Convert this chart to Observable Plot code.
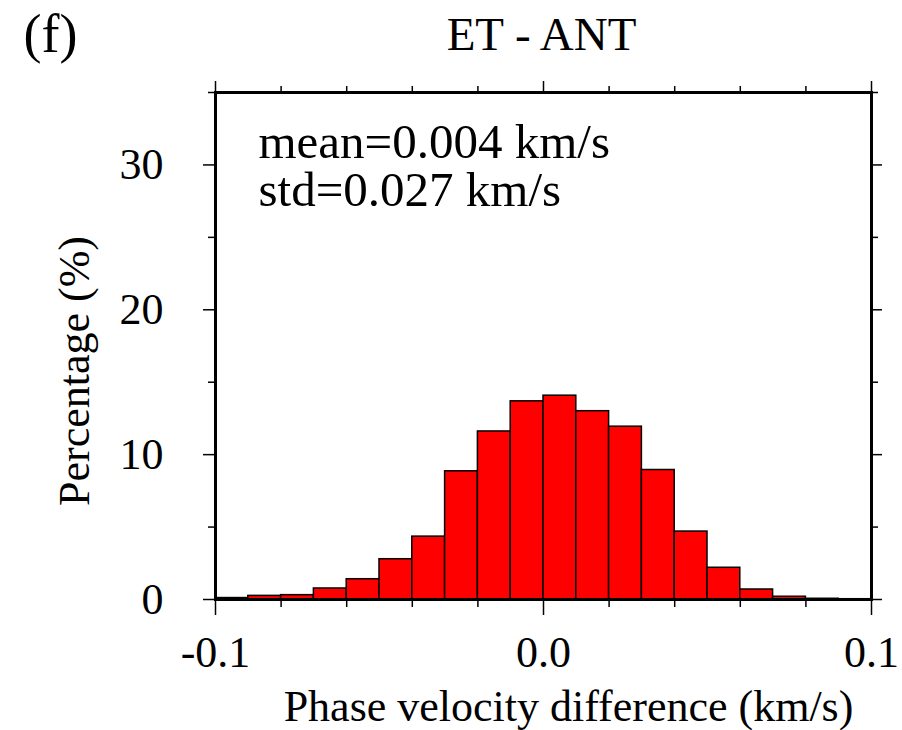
<!DOCTYPE html>
<html>
<head>
<meta charset="utf-8">
<script src="https://cdn.jsdelivr.net/npm/d3@7"></script>
<script src="https://cdn.jsdelivr.net/npm/@observablehq/plot@0.6"></script>
<style>
  html, body { margin: 0; padding: 0; background: #fff; }
  #chart svg { display: block; }
</style>
</head>
<body>
<div id="chart"></div>
<script>
// Histogram bins (left edges, km/s) and percentages
const binLeft = [-0.10, -0.09, -0.08, -0.07, -0.06, -0.05, -0.04, -0.03, -0.02, -0.01,
                  0.00,  0.01,  0.02,  0.03,  0.04,  0.05,  0.06,  0.07,  0.08,  0.09];
const percentage = [0.10, 0.25, 0.30, 0.76, 1.40, 2.78, 4.34, 8.85, 11.60, 13.68,
                    14.07, 13.00, 11.93, 8.94, 4.69, 2.19, 0.69, 0.19, 0.05, 0.02];
const binWidth = 0.01;

const xMajorTicks = [-0.1, 0.0, 0.1];
const xMinorTicks = [-0.08, -0.06, -0.04, -0.02, 0.02, 0.04, 0.06, 0.08];
const yMajorTicks = [0, 10, 20, 30];
const yMinorTicks = [5, 15, 25, 35];

const titleText = "ET - ANT";
const panelLabel = "(f)";
const xLabel = "Phase velocity difference (km/s)";
const yLabel = "Percentage (%)";
const statsText = ["mean=0.004 km/s", "std=0.027 km/s"];

const bins = binLeft.map((x, i) => ({x1: x, x2: x + binWidth, pct: percentage[i]}));
const blank = () => "";

const chart = Plot.plot({
  width: 902,
  height: 730,
  marginLeft: 215,
  marginRight: 31,
  marginTop: 92,
  marginBottom: 131,
  style: {fontFamily: "'Liberation Serif', 'Times New Roman', serif", fontSize: "44px", color: "black", background: "white"},
  x: {domain: [-0.1, 0.1]},
  y: {domain: [0, 35]},
  marks: [
    Plot.rectY(bins, {x1: "x1", x2: "x2", y: "pct", fill: "#ff0000", stroke: "black", strokeWidth: 1.5}),
    Plot.frame({stroke: "black", strokeWidth: 3}),
    // bottom axis
    Plot.axisX({anchor: "bottom", ticks: xMajorTicks, tickSize: 16, tickPadding: 20, tickFormat: d => d.toFixed(1), fontSize: 44, label: null, strokeWidth: 1.5}),
    Plot.axisX({anchor: "bottom", ticks: xMinorTicks, tickSize: 8, tickFormat: blank, label: null, strokeWidth: 1.5}),
    // top axis
    Plot.axisX({anchor: "top", ticks: xMajorTicks, tickSize: 12, tickFormat: blank, label: null, strokeWidth: 1.5}),
    Plot.axisX({anchor: "top", ticks: xMinorTicks, tickSize: 7, tickFormat: blank, label: null, strokeWidth: 1.5}),
    // left axis
    Plot.axisY({anchor: "left", ticks: yMajorTicks, tickSize: 12, tickPadding: 40, tickFormat: d => String(d), fontSize: 44, label: null, strokeWidth: 1.5}),
    Plot.axisY({anchor: "left", ticks: yMinorTicks, tickSize: 7, tickFormat: blank, label: null, strokeWidth: 1.5}),
    // right axis
    Plot.axisY({anchor: "right", ticks: yMajorTicks, tickSize: 10, tickFormat: blank, label: null, strokeWidth: 1.5}),
    Plot.axisY({anchor: "right", ticks: yMinorTicks, tickSize: 6, tickFormat: blank, label: null, strokeWidth: 1.5}),
    // labels
    Plot.text([yLabel], {frameAnchor: "left", rotate: -90, dx: -141, dy: 25, fontSize: 44, textAnchor: "middle", lineAnchor: "middle"}),
    Plot.text([xLabel], {frameAnchor: "bottom", dx: 25, dy: 107, fontSize: 44, textAnchor: "middle", lineAnchor: "middle"}),
    Plot.text([titleText], {frameAnchor: "top", dx: -2, dy: -58, fontSize: 47, textAnchor: "middle", lineAnchor: "middle"}),
    Plot.text([panelLabel], {frameAnchor: "top-left", dx: -165, dy: -58, fontSize: 54, textAnchor: "middle", lineAnchor: "middle"}),
    Plot.text([statsText.join("\n")], {frameAnchor: "top-left", dx: 43, dy: 74, fontSize: 49, textAnchor: "start", lineAnchor: "middle", lineHeight: 0.98})
  ]
});

document.getElementById("chart").appendChild(chart);
</script>
</body>
</html>
